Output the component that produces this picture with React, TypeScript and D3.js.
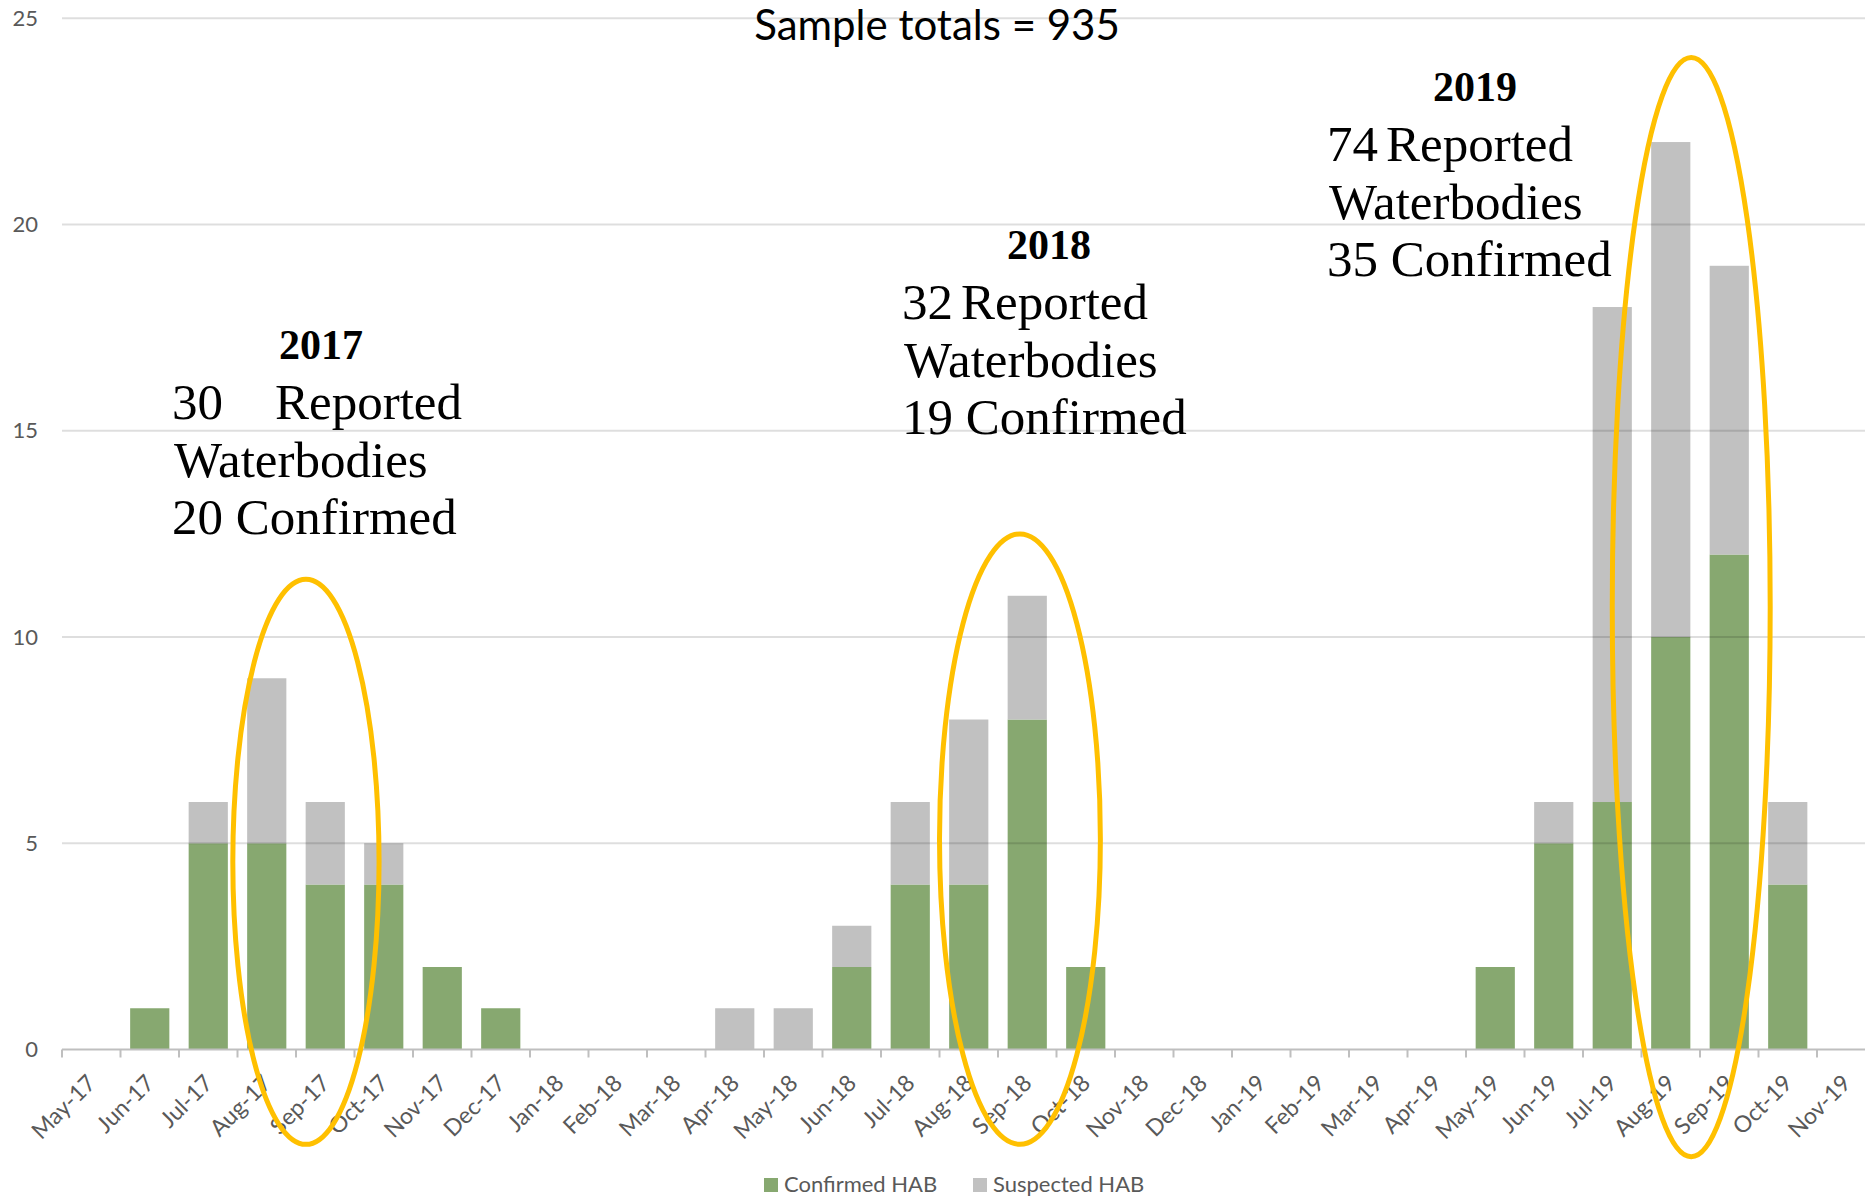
import React from "react";
import * as d3 from "d3";

const months = [
  "May-17", "Jun-17", "Jul-17", "Aug-17", "Sep-17", "Oct-17", "Nov-17", "Dec-17",
  "Jan-18", "Feb-18", "Mar-18", "Apr-18", "May-18", "Jun-18", "Jul-18", "Aug-18",
  "Sep-18", "Oct-18", "Nov-18", "Dec-18", "Jan-19", "Feb-19", "Mar-19", "Apr-19",
  "May-19", "Jun-19", "Jul-19", "Aug-19", "Sep-19", "Oct-19", "Nov-19",
];
const confirmed = [0, 1, 5, 5, 4, 4, 2, 1, 0, 0, 0, 0, 0, 2, 4, 4, 8, 2, 0, 0, 0, 0, 0, 0, 2, 5, 6, 10, 12, 4, 0];
const suspected = [0, 0, 1, 4, 2, 1, 0, 0, 0, 0, 0, 1, 1, 1, 2, 4, 3, 0, 0, 0, 0, 0, 0, 0, 0, 1, 12, 12, 7, 2, 0];
const yTicks = [0, 5, 10, 15, 20, 25];
const seriesNames = ["Confirmed HAB", "Suspected HAB"];
const seriesColors = ["#87a870", "#c1c1c1"];

// year notes: [year, count reported, count confirmed]
const yearNotes = [
  { year: "2017", reported: "30", confirmed: "20" },
  { year: "2018", reported: "32", confirmed: "19" },
  { year: "2019", reported: "74", confirmed: "35" },
];
// highlight ellipses, in category-index / value units
const rings = [
  { x0: 2.92, x1: 5.42, top: 11.4, bottom: -2.3 },
  { x0: 15.0, x1: 17.75, top: 12.5, bottom: -2.3 },
  { x0: 26.5, x1: 29.2, top: 24.05, bottom: -2.6 },
];

const W = 1865;
const H = 1197;
const left = 62;
const step = 58.5;
const baseY = 1049.5;
const topY = 18.3;

export default function App() {
  const x = d3.scaleBand<string>()
    .domain(months)
    .range([left, left + step * months.length])
    .paddingInner(0.33)
    .paddingOuter(0.165);
  const xi = d3.scaleLinear().domain([0, months.length]).range([left, left + step * months.length]);
  const y = d3.scaleLinear().domain([0, 25]).range([baseY, topY]);

  const rows = months.map((m, i) => ({ month: m, confirmed: confirmed[i], suspected: suspected[i] }));
  const stacked = d3.stack<any>().keys(["confirmed", "suspected"])(rows);

  const grey = "#595959";
  const sans = "Lato, 'Open Sans', sans-serif";
  const serif = "'Liberation Serif', 'DejaVu Serif', serif";

  // note anchors (left x, first line baseline)
  const notePos = [
    { yx: 321, yy: 359, x: 172, rx: 275, b: 419 },
    { yx: 1049, yy: 259, x: 902, rx: 961, b: 319 },
    { yx: 1475, yy: 101, x: 1327, rx: 1386, b: 161 },
  ];
  const lh = 57.5;

  return (
    <svg width={W} height={H} style={{ position: "absolute", left: 0, top: 0, background: "#fff" }}>
      {/* bars */}
      {stacked.map((s, si) => (
        <g key={si} fill={seriesColors[si]}>
          {s.map((d, i) =>
            d[1] - d[0] > 0 ? (
              <rect
                key={i}
                x={x(months[i])}
                width={x.bandwidth()}
                y={y(d[1])}
                height={y(d[0]) - y(d[1])}
              />
            ) : null
          )}
        </g>
      ))}

      {/* gridlines */}
      {yTicks.filter(t => t > 0).map(t => (
        <line key={t} x1={left} x2={W} y1={y(t)} y2={y(t)} stroke="#000" strokeOpacity={0.13} strokeWidth={2} />
      ))}

      {/* y labels */}
      {yTicks.map(t => (
        <text key={t} x={38} y={y(t)} dy="0.35em" textAnchor="end" fontFamily={sans} fontSize={22} fill={grey}>
          {t}
        </text>
      ))}

      {/* x axis */}
      <line x1={left} x2={W} y1={baseY} y2={baseY} stroke="#bfbfbf" strokeWidth={2} />
      {d3.range(months.length + 1).map(i => (
        <line key={i} x1={xi(i)} x2={xi(i)} y1={baseY} y2={baseY + 8} stroke="#bfbfbf" strokeWidth={2} />
      ))}
      {months.map(m => {
        const cx = x(m)! + x.bandwidth() / 2 + 6;
        const cy = baseY + 35;
        return (
          <text
            key={m}
            x={cx}
            y={cy}
            transform={`rotate(-45, ${cx}, ${cy})`}
            textAnchor="end"
            fontFamily={sans}
            fontSize={23}
            fill={grey}
          >
            {m}
          </text>
        );
      })}

      {/* title */}
      <text x={937} y={40} textAnchor="middle" fontFamily={sans} fontSize={42} fill="#000">
        Sample totals = 935
      </text>

      {/* year notes */}
      {yearNotes.map((n, i) => {
        const p = notePos[i];
        return (
          <g key={n.year} fontFamily={serif} fill="#000">
            <text x={p.yx} y={p.yy} textAnchor="middle" fontWeight="bold" fontSize={42}>{n.year}</text>
            <text x={p.x} y={p.b} fontSize={51}>{n.reported}</text>
            <text x={p.rx} y={p.b} fontSize={51}>Reported</text>
            <text x={p.x + 2} y={p.b + lh} fontSize={51}>Waterbodies</text>
            <text x={p.x} y={p.b + lh * 2} fontSize={51}>{n.confirmed} Confirmed</text>
          </g>
        );
      })}

      {/* highlight rings */}
      {rings.map((r, i) => (
        <ellipse
          key={i}
          cx={(xi(r.x0) + xi(r.x1)) / 2}
          cy={(y(r.top) + y(r.bottom)) / 2}
          rx={(xi(r.x1) - xi(r.x0)) / 2}
          ry={(y(r.bottom) - y(r.top)) / 2}
          fill="none"
          stroke="#ffc000"
          strokeWidth={5}
        />
      ))}

      {/* legend */}
      {seriesNames.map((name, i) => {
        const lx = [764, 973][i];
        return (
          <g key={name}>
            <rect x={lx} y={1178} width={14} height={14} fill={seriesColors[i]} />
            <text x={lx + 20} y={1192} fontFamily={sans} fontSize={22} fill={grey}>{name}</text>
          </g>
        );
      })}
    </svg>
  );
}
